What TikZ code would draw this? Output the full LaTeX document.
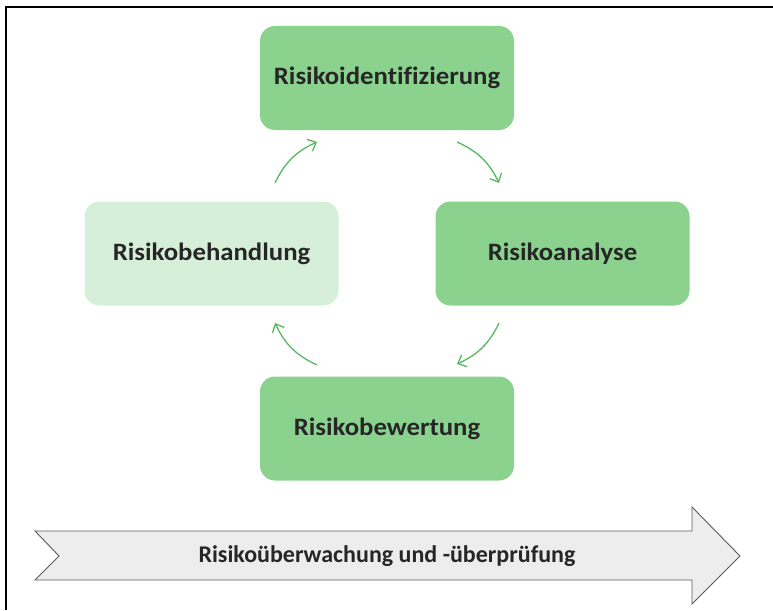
\documentclass[tikz,border=0pt]{standalone}
\usepackage{fontspec}
\setmainfont[Ligatures=NoCommon]{Carlito}
\usetikzlibrary{arrows.meta}
\definecolor{boxgreen}{RGB}{138,210,141}
\definecolor{boxlight}{RGB}{214,239,216}
\definecolor{arrgreen}{RGB}{88,184,96}
\definecolor{txt}{RGB}{38,38,38}
\definecolor{bandfill}{RGB}{237,237,237}
\definecolor{bandline}{RGB}{90,90,90}
\tikzset{
  stagebox/.style={rounded corners=15pt, minimum width=254pt, minimum height=104pt,
    inner sep=0pt, text=txt, font=\fontsize{25}{28}\selectfont\bfseries},
  stagetext/.style={text=txt, inner sep=0pt, xscale=1.07,
    font=\fontsize{25}{28}\selectfont\bfseries},
  cyclearrow/.style={draw=arrgreen, line width=1.3pt,
    -{Straight Barb[length=7pt,width=13pt,line width=1.3pt]}},
}
\begin{document}
\begin{tikzpicture}[x=1pt,y=-1pt]
\useasboundingbox (0,0) rectangle (773,610);
% frame (only top and left visible)
\draw[line width=2.6pt] (6,610) -- (6,7) -- (773,7);

\node[stagebox, fill=boxgreen] (ident) at (387,78) {};
\node[stagebox, fill=boxgreen] (anal) at (562.5,253.5) {};
\node[stagebox, fill=boxgreen] (bew) at (387,428.5) {};
\node[stagebox, fill=boxlight] (beh) at (211.5,253.5) {};
\node[stagetext] (identt) at (ident) {Risikoidentifizierung};
\node[stagetext] (analt) at (anal) {Risikoanalyse};
\node[stagetext] (bewt) at (bew) {Risikobewertung};
\node[stagetext] (beht) at (beh) {Risikobehandlung};

\coordinate (a1s) at (275,183);
\coordinate (a1e) at (317,142);
\coordinate (a2s) at (457,142);
\coordinate (a2e) at (499,183);
\coordinate (a3s) at (499,323);
\coordinate (a3e) at (457,364);
\coordinate (a4s) at (317,365);
\coordinate (a4e) at (275,323);

\draw[cyclearrow] (a1s) to[bend left=20] (a1e);
\draw[cyclearrow] (a2s) to[bend left=20] (a2e);
\draw[cyclearrow] (a3s) to[bend left=20] (a3e);
\draw[cyclearrow] (a4s) to[bend left=20] (a4e);

% monitoring band arrow
\draw[fill=bandfill, draw=bandline, line width=0.9pt]
  (35,531) -- (692,531) -- (692,507) -- (740,556) -- (692,604) -- (692,580)
  -- (35,580) -- (59,556) -- cycle;
\node[text=txt, inner sep=0pt, font=\fontsize{24}{28}\selectfont\bfseries] (band) at (387,556)
  {Risikoüberwachung und -überprüfung};
\end{tikzpicture}
\end{document}
